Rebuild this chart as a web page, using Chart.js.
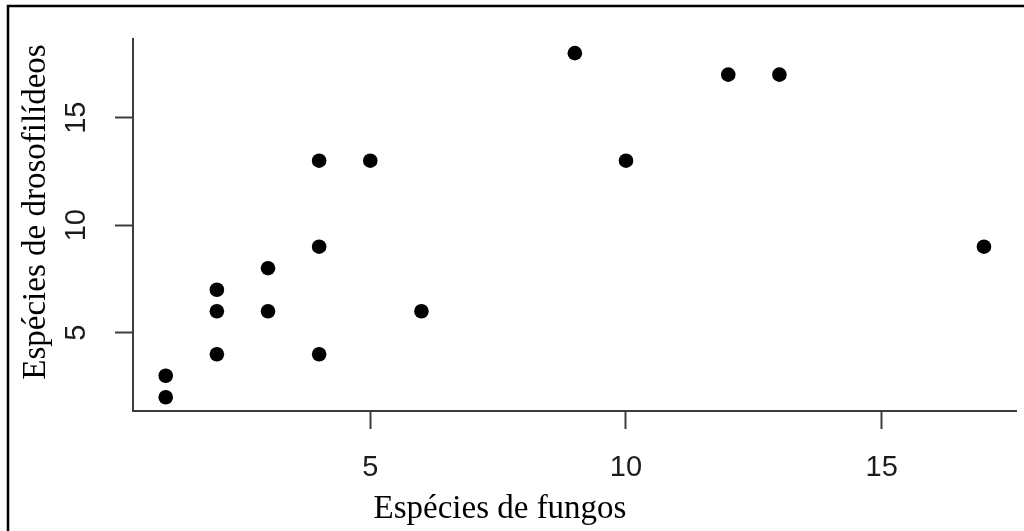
<!DOCTYPE html>
<html>
<head>
<meta charset="utf-8">
<script src="https://cdn.jsdelivr.net/npm/chart.js@4/dist/chart.umd.min.js"></script>
<style>
  html, body { margin: 0; padding: 0; background: #ffffff; }
  #wrap { width: 1024px; height: 531px; position: relative; }
</style>
</head>
<body>
<div id="wrap"><canvas id="c" width="1024" height="531"></canvas></div>
<script>
// Number of fungus species vs number of drosophilid species per sample
const fungosSpecies = [1, 1, 2, 2, 2, 3, 3, 4, 4, 4, 5, 6, 9, 10, 12, 13, 17];
const drosoSpecies  = [2, 3, 4, 6, 7, 6, 8, 4, 9, 13, 13, 6, 18, 13, 17, 17, 9];
const xTickValues = [5, 10, 15];
const yTickValues = [5, 10, 15];
const xAxisTitle = 'Espécies de fungos';
const yAxisTitle = 'Espécies de drosofilídeos';

const points = fungosSpecies.map((x, i) => ({ x: x, y: drosoSpecies[i] }));

const AXIS_COLOR = '#3c3c3c';
const LABEL_COLOR = '#1c1c1c';

// Axis titles and the outer frame lines
const decorations = {
  id: 'decorations',
  afterDraw(chart) {
    const ctx = chart.ctx;
    ctx.save();
    ctx.fillStyle = '#000';
    ctx.font = '33px "Liberation Serif", "Times New Roman", serif';
    ctx.textAlign = 'center';
    ctx.textBaseline = 'alphabetic';
    ctx.fillText(xAxisTitle, 500, 518);
    ctx.translate(45, 212);
    ctx.rotate(-Math.PI / 2);
    ctx.fillText(yAxisTitle, 0, 0);
    ctx.restore();

    ctx.save();
    ctx.strokeStyle = '#000';
    ctx.lineWidth = 2.5;
    ctx.beginPath();
    ctx.moveTo(8, 531);
    ctx.lineTo(8, 6);
    ctx.lineTo(1024, 6);
    ctx.stroke();
    ctx.restore();
  }
};

new Chart(document.getElementById('c'), {
  type: 'scatter',
  data: {
    datasets: [{
      data: points,
      backgroundColor: '#000',
      borderColor: '#000',
      borderWidth: 0,
      pointRadius: 7.3,
      pointHoverRadius: 7.3
    }]
  },
  options: {
    responsive: false,
    animation: false,
    events: [],
    layout: { padding: { top: 18, right: 4, left: 0, bottom: 0 } },
    plugins: {
      legend: { display: false },
      tooltip: { enabled: false }
    },
    scales: {
      x: {
        type: 'linear',
        min: 0.36,
        max: 17.64,
        afterBuildTicks(scale) { scale.ticks = xTickValues.map(v => ({ value: v })); },
        afterFit(scale) { scale.height = 120; },
        border: { display: true, color: AXIS_COLOR, width: 2 },
        grid: { display: true, drawOnChartArea: false, drawTicks: true, tickLength: 18, tickColor: AXIS_COLOR, tickWidth: 2 },
        ticks: {
          autoSkip: false,
          maxRotation: 0,
          minRotation: 0,
          padding: 22,
          color: LABEL_COLOR,
          font: { family: '"Liberation Sans", Arial, sans-serif', size: 29 },
          callback: v => String(v)
        }
      },
      y: {
        type: 'linear',
        min: 1.36,
        max: 18.64,
        afterBuildTicks(scale) { scale.ticks = yTickValues.map(v => ({ value: v })); },
        afterFit(scale) { scale.width = 133; },
        border: { display: true, color: AXIS_COLOR, width: 2 },
        grid: { display: true, drawOnChartArea: false, drawTicks: true, tickLength: 18, tickColor: AXIS_COLOR, tickWidth: 2 },
        ticks: {
          autoSkip: false,
          minRotation: 90,
          maxRotation: 90,
          crossAlign: 'center',
          padding: 22,
          color: LABEL_COLOR,
          font: { family: '"Liberation Sans", Arial, sans-serif', size: 29 },
          callback: v => String(v)
        }
      }
    }
  },
  plugins: [decorations]
});
</script>
</body>
</html>
